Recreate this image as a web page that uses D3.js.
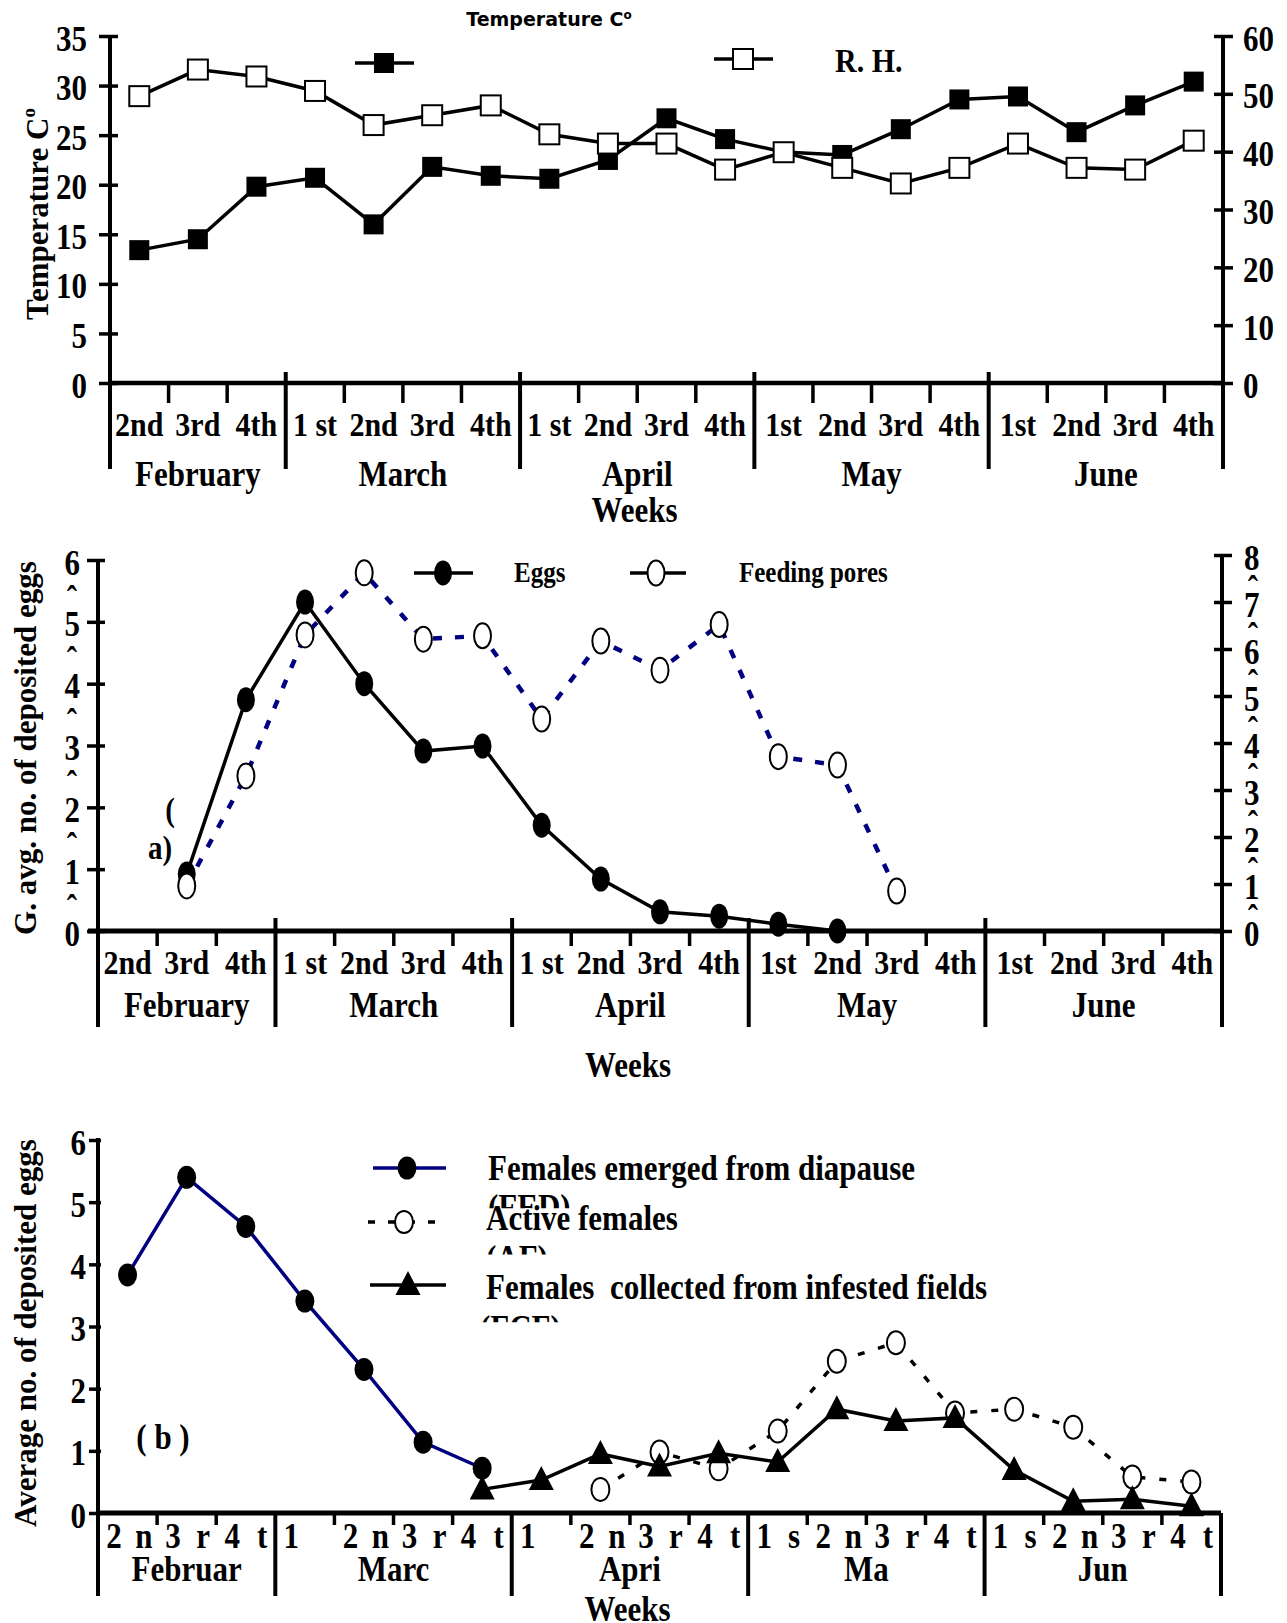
<!DOCTYPE html>
<html>
<head>
<meta charset="utf-8">
<script src="https://cdn.jsdelivr.net/npm/d3@7"></script>
<style>
  body { margin: 0; background: #fff; }
  /* the scanned figure has vertically stretched lettering */
  svg text:not(.flat) {
    transform-box: fill-box;
    transform-origin: 50% 50%;
    transform: scaleY(1.15);
  }
</style>
</head>
<body>
<div id="chart"></div>
<script>
// Data
const weekLabels = ['2nd', '3rd', '4th', '1 st', '2nd', '3rd', '4th', '1 st', '2nd', '3rd', '4th',
  '1st', '2nd', '3rd', '4th', '1st', '2nd', '3rd', '4th']
const monthNames = ['February', 'March', 'April', 'May', 'June']
const monthWeeks = [3, 4, 4, 4, 4]

// panel (top) : temperature (left axis) and R.H. (right axis)
const temperature = [13.4, 14.5, 19.8, 20.7, 16.0, 21.8, 20.9, 20.6, 22.5, 26.7, 24.6,
  23.3, 23.0, 25.6, 28.6, 28.9, 25.3, 28.0, 30.4]
const relHumidity = [49.6, 54.2, 53.0, 50.5, 44.6, 46.3, 48.0, 43.0, 41.4, 41.4, 36.9,
  39.9, 37.2, 34.5, 37.2, 41.4, 37.2, 36.9, 41.9]
const tempTicks = [0, 5, 10, 15, 20, 25, 30, 35]
const rhTicks = [0, 10, 20, 30, 40, 50, 60]

// panel (a) : eggs (left axis) and feeding pores (right axis)
const eggs = [null, 0.92, 3.74, 5.32, 4.0, 2.91, 2.99, 1.71, 0.84, 0.31, 0.24, 0.11, 0.0,
  null, null, null, null, null, null]
const feedingPores = [null, 0.96, 3.30, 6.30, 7.62, 6.21, 6.28, 4.51, 6.17, 5.55, 6.52,
  3.71, 3.53, 0.85, null, null, null, null, null]
const eggTicks = [0, 1, 2, 3, 4, 5, 6]
const eggHalfTicks = [0.5, 1.5, 2.5, 3.5, 4.5, 5.5]
const poreTicks = [0, 1, 2, 3, 4, 5, 6, 7, 8]
const poreHalfTicks = [0.5, 1.5, 2.5, 3.5, 4.5, 5.5, 6.5, 7.5]

// panel (b) : average no. of deposited eggs
const weekLabelsB = [['2', 'n'], ['3', 'r'], ['4', 't'], ['1', ''], ['2', 'n'], ['3', 'r'], ['4', 't'],
  ['1', ''], ['2', 'n'], ['3', 'r'], ['4', 't'], ['1', 's'], ['2', 'n'], ['3', 'r'], ['4', 't'],
  ['1', 's'], ['2', 'n'], ['3', 'r'], ['4', 't']]
const monthNamesB = ['Februar', 'Marc', 'Apri', 'Ma', 'Jun']
const fed = [3.83, 5.40, 4.61, 3.41, 2.31, 1.14, 0.72, null, null, null, null, null, null,
  null, null, null, null, null, null]
const af = [null, null, null, null, null, null, null, null, 0.38, 0.98, 0.71, 1.32, 2.44,
  2.74, 1.61, 1.67, 1.38, 0.58, 0.50]
const fcf = [null, null, null, null, null, null, 0.38, 0.53, 0.95, 0.75, 0.96, 0.82, 1.67,
  1.48, 1.53, 0.69, 0.19, 0.22, 0.11]
const avgTicks = [0, 1, 2, 3, 4, 5, 6]

const SERIF = "'Liberation Serif', 'Times New Roman', serif"
const NAVY = '#000080'
const monthStarts = monthWeeks.map((d, i) => d3.sum(monthWeeks.slice(0, i)))

const svg = d3.select('#chart')
  .append('svg')
  .attr('width', 1287)
  .attr('height', 1623)
  .style('display', 'block')
  .attr('font-family', SERIF)
  .attr('font-weight', 'bold')

function edge(x, i) {
  return i < x.domain().length ? x(i) : x.range()[1]
}
function cx(x, i) {
  return x(i) + x.bandwidth() / 2
}

function txt(g, s, x, y, size, anchor) {
  return g.append('text')
    .attr('x', x).attr('y', y)
    .attr('font-size', size)
    .attr('text-anchor', anchor || 'middle')
    .text(s)
}

function weekAxis(g, x, o) {
  const [x0, x1] = x.range()
  g.append('line')
    .attr('x1', o.lineStart).attr('x2', x1)
    .attr('y1', o.y).attr('y2', o.y)
    .attr('stroke', '#000').attr('stroke-width', o.stroke)

  const minor = d3.range(1, x.domain().length).filter(i => !monthStarts.includes(i))
  g.append('g').selectAll('line')
    .data(minor)
    .join('line')
    .attr('x1', i => x(i)).attr('x2', i => x(i))
    .attr('y1', o.y).attr('y2', o.y + o.minor)
    .attr('stroke', '#000').attr('stroke-width', 3.5)

  const bounds = monthStarts.concat([x.domain().length])
  g.append('g').selectAll('line')
    .data(bounds)
    .join('line')
    .attr('x1', i => edge(x, i)).attr('x2', i => edge(x, i))
    .attr('y1', o.bTop).attr('y2', o.bBot)
    .attr('stroke', '#000').attr('stroke-width', 4)

  g.append('g').selectAll('text')
    .data(monthNames.map((m, k) => k))
    .join('text')
    .attr('x', k => (edge(x, monthStarts[k]) + edge(x, monthStarts[k] + monthWeeks[k])) / 2)
    .attr('y', o.monthY)
    .attr('font-size', 31)
    .attr('text-anchor', 'middle')
    .text(k => o.months[k])

  txt(g, 'Weeks', (x0 + x1) / 2 - 32, o.weeksY, 31)
}

function yAxis(g, scale, ticks, o) {
  const gen = (o.side === 'left' ? d3.axisLeft(scale) : d3.axisRight(scale))
    .tickValues(ticks)
    .tickFormat(d3.format('d'))
    .tickSize(o.out)
    .tickPadding(o.pad)
    .tickSizeOuter(0)
  const ax = g.append('g')
    .attr('transform', `translate(${o.x}, 0)`)
    .call(gen)
    .attr('font-size', 31)
    .attr('font-family', SERIF)
    .attr('font-weight', 'bold')
  ax.select('.domain').remove()
  ax.selectAll('.tick line')
    .attr('x1', o.side === 'left' ? o.in : -o.in)
    .attr('stroke', '#000')
    .attr('stroke-width', 3.5)
  ax.selectAll('.tick text')
    .attr('fill', '#000')
    .attr('dy', '0.4em')
  g.append('line')
    .attr('x1', o.x).attr('x2', o.x)
    .attr('y1', o.top).attr('y2', o.bottom)
    .attr('stroke', '#000').attr('stroke-width', 4)
}

function rotatedLabel(g, s, x, y) {
  return g.append('text')
    .classed('flat', true)
    .attr('transform', `translate(${x}, ${y}) rotate(-90)`)
    .attr('text-anchor', 'middle')
    .attr('dy', '0.35em')
    .attr('font-size', 31)
    .text(s)
}

function seriesLine(g, data, x, y, stroke, width, dash) {
  const line = d3.line()
    .defined(d => d !== null)
    .x((d, i) => cx(x, i))
    .y(d => y(d))
  g.append('path')
    .datum(data)
    .attr('d', line)
    .attr('fill', 'none')
    .attr('stroke', stroke)
    .attr('stroke-width', width)
    .attr('stroke-dasharray', dash || null)
}

function present(data) {
  return data.map((v, i) => ({ v, i })).filter(d => d.v !== null)
}

// ---------------- Panel 1: temperature / R.H.
const p1 = svg.append('g')
const xA = d3.scaleBand().domain(d3.range(weekLabels.length)).range([110, 1223])
const yTemp = d3.scaleLinear().domain([0, 35]).range([383, 36])
const yRh = d3.scaleLinear().domain([0, 60]).range([383, 36])

weekAxis(p1, xA, { y: 383, lineStart: 110, minor: 20, bTop: 372, bBot: 469, stroke: 4.5,
  monthY: 484, weeksY: 520, months: monthNames })
p1.append('g').selectAll('text')
  .data(weekLabels)
  .join('text')
  .attr('x', (d, i) => cx(xA, i))
  .attr('y', 434)
  .attr('font-size', 30)
  .attr('text-anchor', 'middle')
  .text(d => d)

yAxis(p1, yTemp, tempTicks, { side: 'left', x: 110, out: 11, in: 8, pad: 12, top: 36, bottom: 469 })
yAxis(p1, yRh, rhTicks, { side: 'right', x: 1223, out: 10, in: 9, pad: 10, top: 36, bottom: 469 })

const tLab = rotatedLabel(p1, 'Temperature C', 37, 214)
tLab.append('tspan').attr('font-size', 19).attr('dy', '-0.7em').text('o')

seriesLine(p1, temperature, xA, yTemp, '#000', 3.5)
seriesLine(p1, relHumidity, xA, yRh, '#000', 3.5)

p1.append('g').selectAll('rect')
  .data(present(temperature))
  .join('rect')
  .attr('x', d => cx(xA, d.i) - 10)
  .attr('y', d => yTemp(d.v) - 10)
  .attr('width', 20).attr('height', 20)
  .attr('fill', '#000')

p1.append('g').selectAll('rect')
  .data(present(relHumidity))
  .join('rect')
  .attr('x', d => cx(xA, d.i) - 10)
  .attr('y', d => yRh(d.v) - 10)
  .attr('width', 20).attr('height', 20)
  .attr('fill', '#fff')
  .attr('stroke', '#000')
  .attr('stroke-width', 2)

// legend (top)
const title = p1.append('text')
  .classed('flat', true)
  .attr('x', 549).attr('y', 26)
  .attr('text-anchor', 'middle')
  .attr('font-family', "'DejaVu Sans', sans-serif")
  .attr('font-size', 19)
  .text('Temperature C')
title.append('tspan').attr('font-size', 12).attr('dy', '-0.6em').text('o')

p1.append('line').attr('x1', 355).attr('x2', 414).attr('y1', 63).attr('y2', 63)
  .attr('stroke', '#000').attr('stroke-width', 3.5)
p1.append('rect').attr('x', 374).attr('y', 53).attr('width', 20).attr('height', 20).attr('fill', '#000')
p1.append('line').attr('x1', 714).attr('x2', 773).attr('y1', 59).attr('y2', 59)
  .attr('stroke', '#000').attr('stroke-width', 3.5)
p1.append('rect').attr('x', 733).attr('y', 49).attr('width', 20).attr('height', 20)
  .attr('fill', '#fff').attr('stroke', '#000').attr('stroke-width', 2)
txt(p1, 'R. H.', 835, 70, 30, 'start')

// ---------------- Panel 2: eggs / feeding pores
const p2 = svg.append('g')
const xB = d3.scaleBand().domain(d3.range(weekLabels.length)).range([98, 1222])
const yEgg = d3.scaleLinear().domain([0, 6]).range([931, 560])
const yPore = d3.scaleLinear().domain([0, 8]).range([931, 555])

weekAxis(p2, xB, { y: 931, lineStart: 88, minor: 15, bTop: 918, bBot: 1027, stroke: 5,
  monthY: 1015, weeksY: 1075, months: monthNames })
p2.append('g').selectAll('text')
  .data(weekLabels)
  .join('text')
  .attr('x', (d, i) => cx(xB, i))
  .attr('y', 972)
  .attr('font-size', 30)
  .attr('text-anchor', 'middle')
  .text(d => d)

yAxis(p2, yEgg, eggTicks, { side: 'left', x: 98, out: 11, in: 7, pad: 7, top: 560, bottom: 1027 })
yAxis(p2, yPore, poreTicks, { side: 'right', x: 1222, out: 10, in: 8, pad: 12, top: 555, bottom: 1014 })

p2.append('g').selectAll('text')
  .data(eggHalfTicks)
  .join('text')
  .attr('x', 72)
  .attr('y', d => yEgg(d) + 18)
  .attr('font-size', 31)
  .attr('text-anchor', 'middle')
  .text('\u02C6')
p2.append('g').selectAll('text')
  .data(poreHalfTicks)
  .join('text')
  .attr('x', 1253)
  .attr('y', d => yPore(d) + 21)
  .attr('font-size', 31)
  .attr('text-anchor', 'middle')
  .text('\u02C6')

rotatedLabel(p2, 'G. avg. no. of deposited eggs', 25, 748)

seriesLine(p2, eggs, xB, yEgg, '#000', 3.5)
p2.append('g').selectAll('ellipse')
  .data(present(eggs))
  .join('ellipse')
  .attr('cx', d => cx(xB, d.i))
  .attr('cy', d => yEgg(d.v))
  .attr('rx', 9).attr('ry', 12.5)
  .attr('fill', '#000')

seriesLine(p2, feedingPores, xB, yPore, NAVY, 4.5, '9,13')
p2.append('g').selectAll('ellipse')
  .data(present(feedingPores))
  .join('ellipse')
  .attr('cx', d => cx(xB, d.i))
  .attr('cy', d => yPore(d.v))
  .attr('rx', 8.5).attr('ry', 12.5)
  .attr('fill', '#fff')
  .attr('stroke', '#000')
  .attr('stroke-width', 2)

// legend (a)
p2.append('line').attr('x1', 414).attr('x2', 473).attr('y1', 573).attr('y2', 573)
  .attr('stroke', '#000').attr('stroke-width', 3.5)
p2.append('ellipse').attr('cx', 443).attr('cy', 573).attr('rx', 9).attr('ry', 12.5).attr('fill', '#000')
txt(p2, 'Eggs', 514, 581, 25, 'start')
p2.append('line').attr('x1', 630).attr('x2', 686).attr('y1', 573).attr('y2', 573)
  .attr('stroke', '#000').attr('stroke-width', 3.5)
p2.append('ellipse').attr('cx', 656).attr('cy', 573).attr('rx', 8.5).attr('ry', 12.5)
  .attr('fill', '#fff').attr('stroke', '#000').attr('stroke-width', 2)
txt(p2, 'Feeding pores', 739, 581, 25, 'start')
txt(p2, '(', 170, 820, 29)
txt(p2, 'a)', 160, 858, 29)

// ---------------- Panel 3: average no. of deposited eggs
const p3 = svg.append('g')
const xC = d3.scaleBand().domain(d3.range(weekLabelsB.length)).range([98, 1221])
const yAvg = d3.scaleLinear().domain([0, 6]).range([1513, 1140])

weekAxis(p3, xC, { y: 1513, lineStart: 98, minor: 12, bTop: 1513, bBot: 1596, stroke: 5,
  monthY: 1579, weeksY: 1619, months: monthNamesB })
p3.append('g').selectAll('text')
  .data(weekLabelsB)
  .join('text')
  .attr('x', (d, i) => xC(i) + 16)
  .attr('y', 1546)
  .attr('font-size', 31)
  .attr('text-anchor', 'middle')
  .text(d => d[0])
p3.append('g').selectAll('text')
  .data(weekLabelsB)
  .join('text')
  .attr('x', (d, i) => xC(i) + 46)
  .attr('y', 1546)
  .attr('font-size', 31)
  .attr('text-anchor', 'middle')
  .text(d => d[1])

yAxis(p3, yAvg, avgTicks, { side: 'left', x: 98, out: 9, in: 3, pad: 3, top: 1138, bottom: 1596 })
rotatedLabel(p3, 'Average no. of deposited eggs', 25, 1333)

seriesLine(p3, fed, xC, yAvg, NAVY, 3.5)
p3.append('g').selectAll('ellipse')
  .data(present(fed))
  .join('ellipse')
  .attr('cx', d => cx(xC, d.i))
  .attr('cy', d => yAvg(d.v))
  .attr('rx', 9.5).attr('ry', 11.5)
  .attr('fill', '#000')

seriesLine(p3, af, xC, yAvg, '#000', 3.5, '7,14')
p3.append('g').selectAll('ellipse')
  .data(present(af))
  .join('ellipse')
  .attr('cx', d => cx(xC, d.i))
  .attr('cy', d => yAvg(d.v))
  .attr('rx', 9).attr('ry', 11.5)
  .attr('fill', '#fff')
  .attr('stroke', '#000')
  .attr('stroke-width', 2)

const tri = 'M0,-14L12.5,10L-12.5,10Z'
seriesLine(p3, fcf, xC, yAvg, '#000', 3.5)
p3.append('g').selectAll('path')
  .data(present(fcf))
  .join('path')
  .attr('d', tri)
  .attr('transform', d => `translate(${cx(xC, d.i)}, ${yAvg(d.v)})`)
  .attr('fill', '#000')

// legend (b)
const defs = svg.append('defs')
function clipped(id, s, x, y, clipY) {
  defs.append('clipPath').attr('id', id)
    .append('rect').attr('x', x - 10).attr('y', y - 50).attr('width', 200).attr('height', clipY - y + 50)
  txt(p3, s, x, y, 31, 'start').attr('clip-path', `url(#${id})`)
}

p3.append('line').attr('x1', 373).attr('x2', 446).attr('y1', 1168).attr('y2', 1168)
  .attr('stroke', NAVY).attr('stroke-width', 3.5)
p3.append('ellipse').attr('cx', 407).attr('cy', 1168).attr('rx', 9.5).attr('ry', 11.5).attr('fill', '#000')
txt(p3, 'Females emerged from diapause', 488, 1178, 31, 'start')
clipped('clipFed', '(FED)', 488, 1217, 1208)

p3.append('line').attr('x1', 368).attr('x2', 446).attr('y1', 1222).attr('y2', 1222)
  .attr('stroke', '#000').attr('stroke-width', 3.5).attr('stroke-dasharray', '7,13')
p3.append('ellipse').attr('cx', 404).attr('cy', 1222).attr('rx', 9).attr('ry', 11)
  .attr('fill', '#fff').attr('stroke', '#000').attr('stroke-width', 2)
txt(p3, 'Active females', 486, 1228, 31, 'start')
clipped('clipAf', '(AF)', 486, 1268, 1255)

p3.append('line').attr('x1', 370).attr('x2', 446).attr('y1', 1285).attr('y2', 1285)
  .attr('stroke', '#000').attr('stroke-width', 3.5)
p3.append('path').attr('d', tri).attr('transform', 'translate(408, 1285)').attr('fill', '#000')
txt(p3, 'Females  collected from infested fields', 486, 1297, 31, 'start')
  .style('white-space', 'pre')
clipped('clipFcf', '(FCF)', 480, 1338, 1323)

txt(p3, '( b )', 163, 1447, 31).style('white-space', 'pre')
</script>
</body>
</html>
